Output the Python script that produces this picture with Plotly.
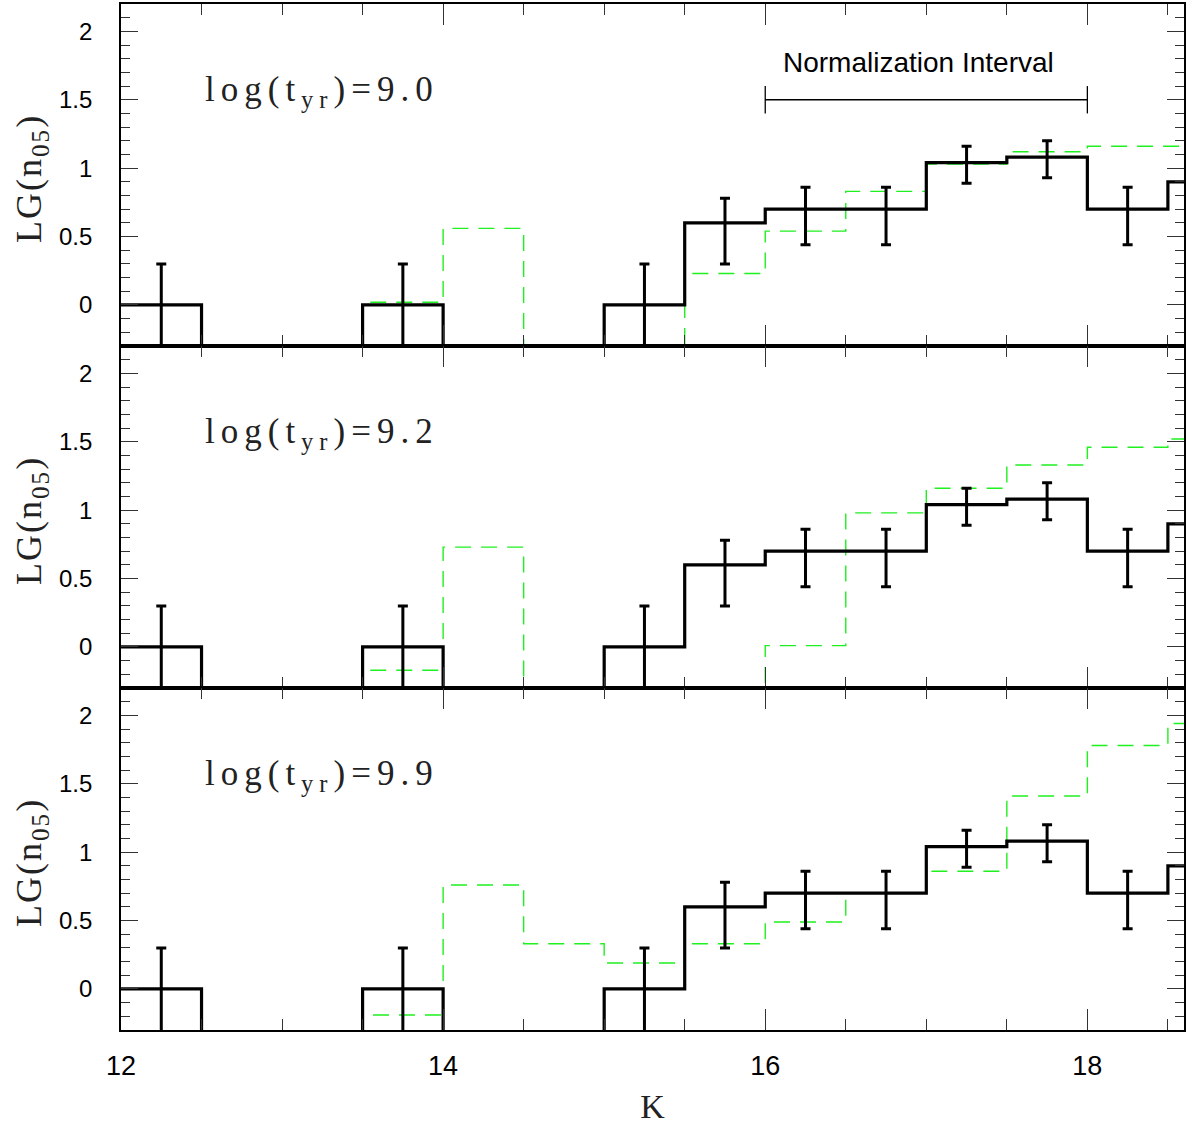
import plotly.graph_objects as go

# ---------------- data ----------------
bin_left = [12.0, 12.5, 13.0, 13.5, 14.0, 14.5, 15.0, 15.5, 16.0, 16.5, 17.0, 17.5, 18.0, 18.5]
bin_width = 0.5

# observed LG(n05) per bin (None = empty bin, below the axis)
observed = [0.0, None, None, 0.0, None, None, 0.0, 0.60, 0.70, 0.70, 1.04, 1.08, 0.70, 0.90]
# error-bar upper / lower ends (lower -1.0 = off the bottom of the axis)
err_top = [0.30, None, None, 0.30, None, None, 0.30, 0.78, 0.86, 0.86, 1.16, 1.20, 0.86, None]
err_bot = [-1.0, None, None, -1.0, None, None, -1.0, 0.30, 0.44, 0.44, 0.89, 0.93, 0.44, None]

# model histograms (green dashed)
model_90 = [None, None, None, 0.02, 0.56, None, None, 0.23, 0.54, 0.83, 1.03, 1.12, 1.16, 1.16]
model_92 = [None, None, None, -0.17, 0.73, None, None, None, 0.01, 0.98, 1.16, 1.33, 1.46, 1.52]
model_99 = [None, None, None, -0.19, 0.76, 0.33, 0.19, 0.33, 0.49, 0.70, 0.86, 1.41, 1.78, 1.94]

panel_labels = ["log(t<sub>yr</sub>)=9.0", "log(t<sub>yr</sub>)=9.2", "log(t<sub>yr</sub>)=9.9"]
models = [model_90, model_92, model_99]

norm_interval = [16.0, 18.0]
norm_level = 1.5
norm_text = "Normalization Interval"

x_range = [12.0, 18.6]
y_range = [-0.3, 2.2]
FLOOR = -5.0  # where empty bins are drawn (outside the visible range)

# ---------------- figure ----------------
def step_xy(vals):
    xs = list(bin_left) + [bin_left[-1] + bin_width]
    ys = [FLOOR if v is None else v for v in vals]
    ys = ys + [ys[-1]]
    return xs, ys

fig = go.Figure()
domains = [[2/3, 1.0], [1/3, 2/3], [0.0, 1/3]]
axis_names = ["", "2", "3"]

for i in range(3):
    xa = "x" + axis_names[i]
    ya = "y" + axis_names[i]

    gx, gy = step_xy(models[i])
    fig.add_trace(go.Scatter(x=gx, y=gy, mode="lines", line_shape="hv",
                             line=dict(color="#1ff01f", width=1.4, dash="16px,10px"),
                             xaxis=xa, yaxis=ya, showlegend=False, hoverinfo="skip"))

    bx, by = step_xy(observed)
    fig.add_trace(go.Scatter(x=bx, y=by, mode="lines", line_shape="hv",
                             line=dict(color="black", width=3.2),
                             xaxis=xa, yaxis=ya, showlegend=False, hoverinfo="skip"))

    cx, cy, up, dn = [], [], [], []
    for xl, v, t, b in zip(bin_left, observed, err_top, err_bot):
        if v is None or t is None:
            continue
        cx.append(xl + bin_width / 2)
        cy.append(v)
        up.append(t - v)
        dn.append(v - b)
    fig.add_trace(go.Scatter(x=cx, y=cy, mode="markers", marker=dict(size=1, color="black", opacity=0),
                             error_y=dict(type="data", symmetric=False, array=up, arrayminus=dn,
                                          color="black", thickness=3, width=5),
                             xaxis=xa, yaxis=ya, showlegend=False, hoverinfo="skip"))

# normalization interval bracket (top panel)
fig.add_trace(go.Scatter(x=norm_interval, y=[norm_level, norm_level], mode="lines",
                         line=dict(color="black", width=1.3),
                         error_y=dict(type="constant", value=0.1, color="black", thickness=1.3, width=0),
                         xaxis="x", yaxis="y", showlegend=False, hoverinfo="skip"))

tickfont_y = dict(family="Liberation Sans, Arial, sans-serif", size=24, color="black")
tickfont_x = dict(family="Liberation Sans, Arial, sans-serif", size=27, color="black")

layout = dict(
    width=1186, height=1129,
    margin=dict(l=121, r=0, t=4, b=99),
    paper_bgcolor="white", plot_bgcolor="white",
    showlegend=False,
)

for i in range(3):
    xk = "xaxis" + axis_names[i]
    yk = "yaxis" + axis_names[i]
    bottom = (i == 2)
    xdef = dict(
        range=x_range, domain=[0, 1], anchor="y" + axis_names[i],
        showgrid=False, zeroline=False,
        showline=True, linecolor="black", linewidth=1.8, mirror="allticks",
        ticks="inside", ticklen=21, tickwidth=1, tickcolor="#333",
        tick0=12, dtick=2,
        minor=dict(ticks="inside", ticklen=11, tickwidth=1, tickcolor="#333", dtick=0.5, showgrid=False),
        showticklabels=bottom, tickfont=tickfont_x, ticklabelstandoff=11,
    )
    if i > 0:
        xdef["matches"] = "x"
    if bottom:
        xdef["title"] = dict(text="K", font=dict(family="Liberation Serif, serif", size=34, color="#222"),
                             standoff=14)
    layout[xk] = xdef
    layout[yk] = dict(
        range=y_range, domain=domains[i], anchor="x" + axis_names[i],
        showgrid=False, zeroline=False,
        showline=True, linecolor="black", linewidth=1.8, mirror="allticks",
        ticks="inside", ticklen=17, tickwidth=1, tickcolor="#333",
        tick0=0, dtick=0.5,
        minor=dict(ticks="inside", ticklen=9, tickwidth=1, tickcolor="#333", dtick=0.1, showgrid=False),
        showticklabels=True, tickfont=tickfont_y, ticklabelstandoff=22,
    )

fig.update_layout(**layout)

annotations = []
for i in range(3):
    ya = "y" + axis_names[i]
    xa = "x" + axis_names[i]
    annotations.append(dict(
        text='<span style="letter-spacing:6px">' + panel_labels[i] + '</span>',
        x=12.51, y=1.56, xref=xa, yref=ya, xanchor="left", yanchor="middle",
        showarrow=False, font=dict(family="Liberation Serif, serif", size=35, color="#222")))
    annotations.append(dict(
        text='<span style="letter-spacing:2px">LG(n<sub>05</sub>)</span>',
        x=0, y=0.5, xref="paper", yref=ya + " domain", xanchor="center", yanchor="middle",
        xshift=-90, yshift=-4, textangle=-90, showarrow=False,
        font=dict(family="Liberation Serif, serif", size=36, color="#222")))

annotations.append(dict(text=norm_text, x=16.95, y=1.77, xref="x", yref="y",
                        xanchor="center", yanchor="middle", showarrow=False,
                        font=dict(family="Liberation Sans, Arial, sans-serif", size=28, color="black")))
fig.update_layout(annotations=annotations)

fig.write_html("out.html")
